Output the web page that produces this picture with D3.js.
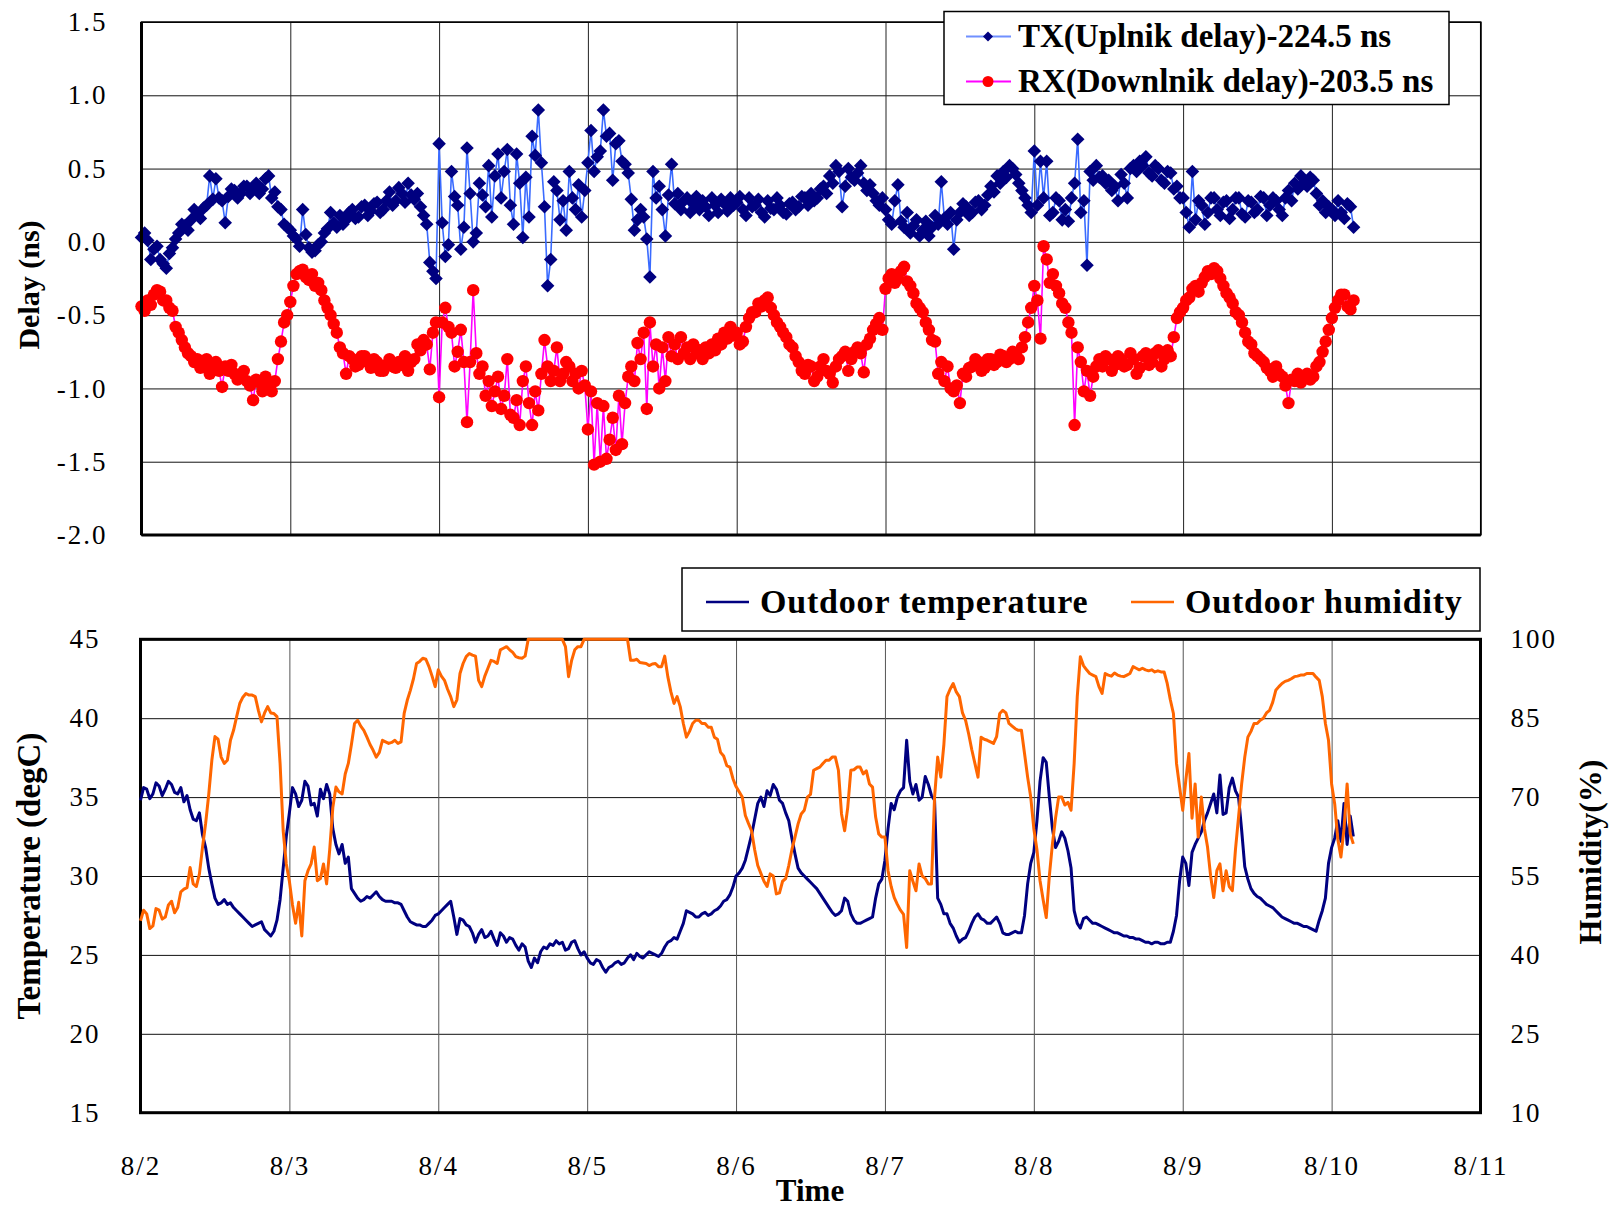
<!DOCTYPE html>
<html>
<head>
<meta charset="utf-8">
<script src="https://cdn.jsdelivr.net/npm/d3@7"></script>
<style>
  body { margin: 0; background: #fff; }
  text { font-family: "Liberation Serif", "Times New Roman", serif; fill: #000; }
  .tick text { font-size: 27px; letter-spacing: 2px; }
  .axis-title { font-weight: bold; }
  .legend-text { font-weight: bold; }
</style>
</head>
<body>
<div id="vis"></div>
<script>
// x axis: one label per day; samples every half hour from 8/2 00:00
var dayLabels = ['8/2', '8/3', '8/4', '8/5', '8/6', '8/7', '8/8', '8/9', '8/10', '8/11'];
var hoursPerPoint = 0.5;

var delayTicks = [1.5, 1.0, 0.5, 0.0, -0.5, -1.0, -1.5, -2.0];
var tempTicks = [45, 40, 35, 30, 25, 20, 15];
var humidityTicks = [100, 85, 70, 55, 40, 25, 10];

// TX (uplink delay - 224.5 ns), one row per day
var txDelay = [
  0.03, 0.06, 0.01, -0.12, -0.05, -0.03, -0.12, -0.15, -0.18, -0.08, -0.04, 0.02, 0.06, 0.12, 0.11, 0.08, 0.15, 0.22, 0.19, 0.16, 0.23, 0.25, 0.45, 0.29, 0.43, 0.30, 0.28, 0.13, 0.31, 0.36, 0.35, 0.30, 0.33, 0.38, 0.38, 0.33, 0.36, 0.40, 0.33, 0.36, 0.43, 0.45, 0.30, 0.34, 0.24, 0.22, 0.12, 0.10,
  0.08, 0.04, 0.02, -0.03, 0.22, 0.05, -0.04, -0.07, -0.06, -0.02, 0.00, 0.06, 0.09, 0.20, 0.13, 0.10, 0.18, 0.12, 0.15, 0.20, 0.22, 0.16, 0.17, 0.24, 0.25, 0.18, 0.21, 0.26, 0.27, 0.20, 0.22, 0.28, 0.34, 0.25, 0.28, 0.37, 0.33, 0.27, 0.40, 0.32, 0.29, 0.33, 0.24, 0.18, 0.12, -0.14, -0.20, -0.25,
  0.67, 0.13, -0.10, -0.02, 0.48, 0.31, 0.25, -0.05, 0.10, 0.64, 0.33, 0.00, 0.06, 0.40, 0.32, 0.24, 0.52, 0.17, 0.45, 0.60, 0.30, 0.48, 0.63, 0.25, 0.12, 0.60, 0.40, 0.03, 0.44, 0.17, 0.72, 0.59, 0.90, 0.54, 0.24, -0.30, -0.12, 0.41, 0.35, 0.15, 0.28, 0.08, 0.48, 0.30, 0.22, 0.39, 0.17, 0.35,
  0.54, 0.76, 0.48, 0.58, 0.62, 0.90, 0.72, 0.74, 0.42, 0.67, 0.69, 0.55, 0.53, 0.47, 0.29, 0.08, 0.15, 0.22, 0.17, 0.02, -0.24, 0.48, 0.30, 0.38, 0.22, 0.04, 0.32, 0.53, 0.26, 0.33, 0.22, 0.28, 0.30, 0.20, 0.26, 0.31, 0.22, 0.28, 0.24, 0.18, 0.30, 0.25, 0.20, 0.29, 0.26, 0.21, 0.30, 0.25,
  0.27, 0.31, 0.22, 0.18, 0.30, 0.24, 0.25, 0.29, 0.20, 0.17, 0.28, 0.23, 0.22, 0.30, 0.25, 0.20, 0.19, 0.26, 0.27, 0.22, 0.24, 0.31, 0.30, 0.25, 0.33, 0.28, 0.30, 0.36, 0.38, 0.33, 0.45, 0.40, 0.52, 0.48, 0.24, 0.38, 0.50, 0.44, 0.42, 0.47, 0.52, 0.40, 0.35, 0.39, 0.33, 0.28, 0.25, 0.30,
  0.22, 0.15, 0.12, 0.28, 0.39, 0.14, 0.10, 0.20, 0.06, 0.11, 0.15, 0.04, 0.08, 0.14, 0.04, 0.10, 0.18, 0.12, 0.41, 0.16, 0.12, 0.20, -0.05, 0.15, 0.20, 0.26, 0.24, 0.18, 0.20, 0.27, 0.28, 0.22, 0.25, 0.32, 0.38, 0.34, 0.45, 0.40, 0.48, 0.44, 0.52, 0.50, 0.46, 0.40, 0.35, 0.30, 0.25, 0.20,
  0.62, 0.25, 0.55, 0.30, 0.55, 0.18, 0.20, 0.30, 0.28, 0.15, 0.22, 0.14, 0.30, 0.40, 0.70, 0.20, 0.28, -0.16, 0.48, 0.42, 0.52, 0.44, 0.45, 0.40, 0.42, 0.35, 0.38, 0.28, 0.46, 0.40, 0.30, 0.50, 0.52, 0.48, 0.55, 0.52, 0.58, 0.47, 0.45, 0.52, 0.50, 0.42, 0.40, 0.48, 0.47, 0.36, 0.38, 0.30,
  0.30, 0.20, 0.10, 0.48, 0.15, 0.28, 0.25, 0.12, 0.20, 0.30, 0.30, 0.22, 0.18, 0.27, 0.28, 0.16, 0.22, 0.30, 0.30, 0.19, 0.17, 0.28, 0.27, 0.20, 0.22, 0.31, 0.30, 0.18, 0.25, 0.30, 0.28, 0.22, 0.18, 0.30, 0.35, 0.28, 0.40, 0.36, 0.45, 0.40, 0.38, 0.44, 0.42, 0.33, 0.25, 0.28, 0.20, 0.24,
  0.22, 0.18, 0.28, 0.20, 0.16, 0.26, 0.24, 0.10
];

// RX (downlink delay - 203.5 ns), one row per day
var rxDelay = [
  -0.44, -0.47, -0.40, -0.43, -0.36, -0.33, -0.34, -0.40, -0.40, -0.45, -0.47, -0.58, -0.62, -0.67, -0.72, -0.76, -0.78, -0.82, -0.80, -0.86, -0.84, -0.80, -0.90, -0.86, -0.82, -0.88, -0.99, -0.85, -0.88, -0.84, -0.90, -0.94, -0.92, -0.88, -0.95, -0.98, -1.08, -0.94, -0.96, -1.02, -0.92, -0.98, -1.02, -0.95, -0.80, -0.68, -0.55, -0.50,
  -0.41, -0.30, -0.22, -0.20, -0.19, -0.24, -0.26, -0.22, -0.30, -0.28, -0.33, -0.40, -0.45, -0.50, -0.56, -0.62, -0.72, -0.76, -0.90, -0.78, -0.80, -0.85, -0.84, -0.78, -0.78, -0.82, -0.86, -0.80, -0.82, -0.88, -0.88, -0.84, -0.80, -0.85, -0.86, -0.82, -0.84, -0.78, -0.88, -0.82, -0.80, -0.70, -0.74, -0.67, -0.70, -0.87, -0.62, -0.55,
  -1.06, -0.55, -0.45, -0.58, -0.62, -0.85, -0.75, -0.60, -0.82, -1.23, -0.82, -0.33, -0.76, -0.90, -0.85, -1.05, -0.95, -1.12, -1.02, -0.92, -1.14, -1.05, -0.80, -1.18, -1.20, -1.08, -1.25, -0.95, -0.85, -1.10, -1.25, -1.02, -1.15, -0.90, -0.67, -0.85, -0.95, -0.88, -0.72, -0.95, -0.90, -0.82, -0.85, -0.95, -0.90, -1.00, -0.88, -0.98,
  -1.28, -1.02, -1.52, -1.10, -1.50, -1.12, -1.48, -1.35, -1.20, -1.42, -1.05, -1.38, -1.10, -0.92, -0.85, -0.95, -0.69, -0.80, -0.62, -1.14, -0.55, -0.85, -0.70, -1.00, -0.72, -0.95, -0.65, -0.78, -0.70, -0.80, -0.65, -0.76, -0.72, -0.80, -0.70, -0.76, -0.74, -0.80, -0.72, -0.76, -0.70, -0.74, -0.66, -0.70, -0.62, -0.66, -0.58, -0.64,
  -0.62, -0.70, -0.68, -0.58, -0.52, -0.48, -0.48, -0.42, -0.44, -0.40, -0.38, -0.45, -0.50, -0.55, -0.58, -0.62, -0.65, -0.70, -0.72, -0.78, -0.82, -0.88, -0.90, -0.84, -0.85, -0.95, -0.92, -0.85, -0.80, -0.88, -0.90, -0.96, -0.85, -0.80, -0.78, -0.75, -0.88, -0.80, -0.75, -0.72, -0.76, -0.89, -0.70, -0.66, -0.60, -0.56, -0.52, -0.60,
  -0.32, -0.25, -0.22, -0.28, -0.25, -0.20, -0.17, -0.27, -0.30, -0.35, -0.42, -0.45, -0.48, -0.55, -0.60, -0.67, -0.68, -0.90, -0.82, -0.95, -0.85, -1.00, -1.02, -0.98, -1.10, -0.90, -0.92, -0.86, -0.85, -0.80, -0.82, -0.88, -0.86, -0.80, -0.80, -0.84, -0.82, -0.77, -0.78, -0.82, -0.80, -0.75, -0.76, -0.80, -0.72, -0.65, -0.55, -0.45,
  -0.30, -0.40, -0.66, -0.03, -0.12, -0.28, -0.22, -0.30, -0.35, -0.42, -0.45, -0.55, -0.62, -1.25, -0.72, -0.82, -1.02, -0.88, -1.05, -0.92, -0.85, -0.80, -0.85, -0.78, -0.80, -0.88, -0.84, -0.78, -0.80, -0.85, -0.84, -0.76, -0.80, -0.90, -0.86, -0.78, -0.76, -0.84, -0.82, -0.76, -0.74, -0.85, -0.80, -0.74, -0.78, -0.65, -0.52, -0.48,
  -0.45, -0.40, -0.38, -0.32, -0.30, -0.34, -0.28, -0.24, -0.20, -0.22, -0.18, -0.20, -0.25, -0.30, -0.35, -0.38, -0.42, -0.48, -0.50, -0.55, -0.62, -0.68, -0.70, -0.76, -0.78, -0.80, -0.82, -0.86, -0.88, -0.92, -0.85, -0.90, -0.92, -0.98, -1.10, -0.94, -0.95, -0.90, -0.96, -0.92, -0.90, -0.94, -0.92, -0.85, -0.82, -0.75, -0.68, -0.60,
  -0.52, -0.45, -0.40, -0.36, -0.36, -0.44, -0.46, -0.40
];

// outdoor temperature (degC), one row per day
var temperature = [
  34.8, 35.6, 35.5, 34.9, 35.2, 35.9, 35.7, 35.1, 35.5, 36.0, 35.8, 35.3, 35.2, 35.6, 34.7, 35.1, 34.2, 33.6, 33.5, 34.0, 32.6, 31.8, 30.5, 29.5, 28.6, 28.2, 28.3, 28.5, 28.2, 28.3, 28.0, 27.8, 27.6, 27.4, 27.2, 27.0, 26.8, 26.9, 27.0, 27.1, 26.6, 26.4, 26.2, 26.5, 27.2, 28.5, 30.5, 32.5,
  34.0, 35.6, 35.2, 34.4, 34.8, 36.0, 35.7, 34.5, 34.6, 33.8, 35.5, 34.9, 35.8, 35.2, 33.0, 32.0, 31.4, 32.0, 30.8, 31.2, 29.2, 28.9, 28.6, 28.4, 28.5, 28.7, 28.6, 28.8, 29.0, 28.7, 28.5, 28.4, 28.4, 28.4, 28.3, 28.3, 28.2, 27.8, 27.4, 27.1, 27.0, 26.9, 26.9, 26.8, 26.8, 27.0, 27.2, 27.5,
  27.6, 27.8, 28.0, 28.2, 28.4, 27.4, 26.3, 27.3, 27.2, 26.9, 26.8, 26.4, 25.8, 26.3, 26.6, 26.1, 26.2, 26.5, 26.0, 25.6, 26.4, 26.2, 25.8, 26.1, 26.0, 25.6, 25.3, 25.7, 25.5, 24.6, 24.2, 24.8, 24.5, 25.2, 25.5, 25.4, 25.7, 25.6, 25.9, 25.7, 25.8, 25.3, 25.4, 25.8, 25.9, 25.4, 25.0, 25.2,
  24.8, 24.5, 24.4, 24.7, 24.6, 24.2, 23.9, 24.2, 24.3, 24.5, 24.6, 24.4, 24.5, 24.8, 25.0, 24.7, 25.1, 24.9, 24.8, 25.0, 25.2, 25.1, 25.0, 24.9, 25.1, 25.5, 25.8, 25.9, 26.1, 26.0, 26.5, 27.0, 27.8, 27.7, 27.6, 27.4, 27.4, 27.6, 27.7, 27.5, 27.6, 27.8, 27.9, 28.1, 28.4, 28.5, 28.8, 29.3,
  30.0, 30.2, 30.5, 31.0, 31.8, 32.6, 33.6, 34.6, 35.0, 34.4, 35.4, 35.1, 35.8, 35.5, 34.8, 34.6, 34.0, 33.5, 32.4, 31.4, 30.5, 30.2, 30.0, 29.8, 29.6, 29.4, 29.2, 28.9, 28.6, 28.3, 28.0, 27.7, 27.5, 27.6, 27.8, 28.6, 28.4, 27.6, 27.2, 27.0, 27.0, 27.1, 27.2, 27.3, 27.4, 28.6, 29.5, 29.8,
  31.0, 33.0, 34.6, 34.2, 35.0, 35.4, 35.6, 38.6, 36.0, 35.2, 35.8, 34.8, 35.0, 36.3, 35.8, 35.1, 34.8, 28.6, 28.2, 27.6, 27.6, 27.0, 26.7, 26.2, 25.8, 26.0, 26.1, 26.5, 27.0, 27.4, 27.6, 27.3, 27.2, 27.0, 27.0, 27.2, 27.4, 27.0, 26.4, 26.3, 26.3, 26.4, 26.5, 26.4, 26.4, 27.5, 29.5, 30.8,
  31.5, 33.5, 36.0, 37.5, 37.2, 35.0, 33.0, 31.8, 32.2, 32.8, 32.4, 31.6, 30.5, 27.8, 27.0, 26.7, 27.3, 27.4, 27.2, 27.0, 27.0, 26.9, 26.8, 26.7, 26.6, 26.5, 26.4, 26.4, 26.3, 26.2, 26.2, 26.1, 26.1, 26.0, 26.0, 25.9, 25.8, 25.8, 25.7, 25.8, 25.8, 25.7, 25.7, 25.8, 25.8, 26.5, 27.5, 29.7,
  31.2, 30.8, 29.4, 31.5, 32.0, 32.4, 32.8, 33.5, 34.0, 34.6, 35.2, 34.0, 36.4, 33.9, 34.0, 35.6, 36.2, 35.4, 35.0, 32.9, 30.6, 29.8, 29.2, 28.9, 28.7, 28.6, 28.4, 28.2, 28.1, 28.0, 27.8, 27.6, 27.4, 27.3, 27.2, 27.1, 27.0, 27.0, 26.9, 26.8, 26.8, 26.7, 26.6, 26.5, 27.2, 27.8, 28.6, 30.8,
  31.8, 32.4, 33.5, 32.2, 34.6, 32.0, 33.8, 32.5
];

// outdoor humidity (%), one row per day
var humidity = [
  46.5, 48.5, 47.8, 45.0, 45.5, 48.8, 48.5, 46.8, 47.2, 49.5, 50.2, 48.0, 49.0, 52.0, 52.5, 52.8, 56.6, 53.5, 53.0, 55.4, 60.5, 65.0, 70.5, 77.0, 81.5, 81.0, 77.6, 76.4, 77.0, 80.8, 82.7, 85.3, 87.8, 89.0, 89.7, 89.4, 89.4, 89.1, 86.5, 84.3, 86.0, 87.2, 86.0, 85.9, 85.3, 76.4, 63.6, 57.3,
  54.0, 49.5, 46.0, 50.0, 43.6, 54.1, 56.0, 57.3, 60.5, 54.1, 54.5, 57.3, 53.5, 60.0, 68.0, 71.9, 71.0, 70.6, 74.4, 76.4, 80.0, 84.0, 84.6, 83.5, 82.7, 81.4, 80.0, 78.9, 77.6, 78.5, 80.8, 80.5, 80.2, 80.4, 80.8, 80.2, 80.5, 85.9, 88.4, 90.3, 92.5, 95.4, 95.8, 96.4, 96.2, 94.8, 93.0, 91.0,
  94.2, 93.0, 92.2, 90.5, 89.1, 87.2, 88.5, 93.5, 95.4, 96.7, 97.3, 97.0, 96.8, 92.2, 91.0, 93.0, 94.5, 96.0, 95.8, 95.4, 98.0, 98.3, 98.6, 98.0, 97.5, 96.7, 96.5, 96.4, 96.8, 100, 100, 100, 100, 100, 100, 100, 100, 100, 100, 100, 100, 98.6, 92.9, 96.0, 98.0, 98.6, 98.6, 100,
  100, 100, 100, 100, 100, 100, 100, 100, 100, 100, 100, 100, 100, 100, 96.0, 96.0, 96.2, 95.6, 95.5, 95.4, 95.0, 95.3, 95.4, 94.8, 94.8, 96.8, 92.9, 90.0, 87.8, 89.1, 87.2, 84.0, 81.4, 82.5, 84.0, 84.6, 84.6, 84.0, 84.0, 83.3, 83.3, 81.4, 81.0, 78.5, 77.8, 76.0, 75.7, 73.5,
  72.0, 71.0, 70.0, 66.5, 65.0, 63.6, 60.0, 57.0, 55.5, 54.0, 53.0, 55.4, 55.0, 51.6, 51.8, 54.0, 54.5, 57.0, 60.0, 62.4, 64.9, 66.8, 67.5, 70.0, 70.5, 75.1, 75.4, 75.7, 76.4, 77.0, 77.0, 77.6, 77.6, 75.1, 66.8, 63.6, 68.0, 75.1, 75.2, 75.7, 75.7, 74.4, 75.0, 72.5, 71.9, 66.2, 63.0, 62.4,
  62.4, 56.0, 53.0, 50.9, 49.6, 48.5, 47.7, 41.4, 56.0, 54.0, 52.2, 57.3, 55.0, 54.5, 53.5, 53.5, 70.0, 77.6, 73.8, 80.0, 89.1, 90.5, 91.6, 90.0, 89.1, 86.0, 84.6, 82.0, 79.0, 76.4, 73.8, 81.4, 81.0, 80.8, 80.5, 80.2, 81.5, 85.9, 86.5, 86.0, 84.0, 83.5, 83.0, 82.7, 82.7, 78.3, 73.8, 70.0,
  64.0, 60.0, 54.1, 50.5, 47.1, 55.0, 61.1, 66.0, 70.0, 70.0, 68.5, 69.0, 67.5, 76.4, 89.1, 96.7, 95.0, 94.2, 93.5, 93.2, 92.9, 91.0, 89.7, 93.5, 93.2, 93.0, 93.6, 93.2, 93.0, 92.9, 93.2, 93.5, 94.8, 94.5, 94.2, 94.5, 94.2, 94.0, 94.2, 93.8, 94.0, 93.8, 93.8, 91.6, 88.5, 85.9, 76.4, 71.9,
  67.5, 73.2, 78.3, 66.0, 72.5, 62.4, 70.0, 64.0, 60.5, 55.0, 50.9, 56.0, 57.3, 52.2, 56.0, 53.0, 52.2, 60.0, 66.2, 72.5, 77.6, 81.4, 82.5, 84.0, 84.0, 84.6, 85.0, 86.0, 86.5, 88.0, 90.3, 91.0, 91.6, 92.0, 92.2, 92.5, 92.9, 93.0, 93.2, 93.2, 93.5, 93.5, 93.5, 92.8, 92.2, 89.1, 84.0, 80.8,
  72.5, 68.7, 62.0, 58.6, 64.0, 72.5, 63.0, 61.1
];

var width = 1614;
var height = 1209;

var topBox = { left: 141.5, right: 1480.7, top: 22, bottom: 535 };
var botBox = { left: 140.5, right: 1480.5, top: 639.3, bottom: 1112.7 };

var svg = d3.select('#vis')
  .append('svg')
  .attr('width', width)
  .attr('height', height)
  .style('background', '#fff');

function dayOf(i) {
  return i * hoursPerPoint / 24;
}

var xTop = d3.scaleLinear().domain([0, dayLabels.length - 1]).range([topBox.left, topBox.right]);
var xBot = d3.scaleLinear().domain([0, dayLabels.length - 1]).range([botBox.left, botBox.right]);
var yDelay = d3.scaleLinear().domain([-2, 1.5]).range([topBox.bottom, topBox.top]);
var yTemp = d3.scaleLinear().domain([15, 45]).range([botBox.bottom, botBox.top]);
var yHum = d3.scaleLinear().domain([10, 100]).range([botBox.bottom, botBox.top]);

function styleGrid(g, color) {
  g.select('.domain').remove();
  g.selectAll('.tick line').attr('stroke', color).attr('stroke-width', 1);
}

/* ---------- top chart: delays ---------- */

var delayChart = svg.append('g');

delayChart.append('g')
  .attr('transform', 'translate(' + topBox.left + ',0)')
  .call(d3.axisLeft(yDelay)
    .tickValues(delayTicks)
    .tickSize(-(topBox.right - topBox.left))
    .tickPadding(34)
    .tickFormat(function (d) { return d.toFixed(1); }))
  .call(styleGrid, '#111');

delayChart.append('g')
  .attr('transform', 'translate(0,' + topBox.bottom + ')')
  .call(d3.axisBottom(xTop)
    .tickValues(d3.range(dayLabels.length))
    .tickSize(-(topBox.bottom - topBox.top))
    .tickFormat(''))
  .call(styleGrid, '#222');

delayChart.append('rect')
  .attr('x', topBox.left).attr('y', topBox.top)
  .attr('width', topBox.right - topBox.left)
  .attr('height', topBox.bottom - topBox.top)
  .attr('fill', 'none').attr('stroke', '#000').attr('stroke-width', 1.5);

function drawDelay(values, lineColor, markerColor, isDiamond) {
  var line = d3.line()
    .x(function (d, i) { return xTop(dayOf(i)); })
    .y(function (d) { return yDelay(d); });

  delayChart.append('path')
    .datum(values)
    .attr('d', line)
    .attr('fill', 'none')
    .attr('stroke', lineColor)
    .attr('stroke-width', 1.6);

  var marks = delayChart.append('g');
  if (isDiamond) {
    marks.selectAll('path')
      .data(values)
      .enter().append('path')
      .attr('d', d3.symbol(d3.symbolSquare, 92))
      .attr('transform', function (d, i) {
        return 'translate(' + xTop(dayOf(i)) + ',' + yDelay(d) + ') rotate(45)';
      })
      .attr('fill', markerColor);
  } else {
    marks.selectAll('circle')
      .data(values)
      .enter().append('circle')
      .attr('cx', function (d, i) { return xTop(dayOf(i)); })
      .attr('cy', function (d) { return yDelay(d); })
      .attr('r', 6.2)
      .attr('fill', markerColor);
  }
}

drawDelay(txDelay, '#3a6bff', '#000080', true);
drawDelay(rxDelay, '#ff00ff', '#ff0000', false);

// thick left and bottom axis lines
delayChart.append('line')
  .attr('x1', topBox.left).attr('x2', topBox.left)
  .attr('y1', topBox.top).attr('y2', topBox.bottom)
  .attr('stroke', '#000').attr('stroke-width', 3);
delayChart.append('line')
  .attr('x1', topBox.left).attr('x2', topBox.right)
  .attr('y1', topBox.bottom).attr('y2', topBox.bottom)
  .attr('stroke', '#000').attr('stroke-width', 3);

delayChart.append('text')
  .attr('class', 'axis-title')
  .attr('transform', 'translate(28,285) rotate(-90)')
  .attr('text-anchor', 'middle')
  .attr('dy', '0.35em')
  .style('font-size', '30px')
  .text('Delay (ns)');

// legend of the delay chart
var leg1 = delayChart.append('g');
leg1.append('rect')
  .attr('x', 944).attr('y', 11.5).attr('width', 505).attr('height', 93)
  .attr('fill', '#fff').attr('stroke', '#000').attr('stroke-width', 1.5);

var leg1Items = [
  { label: 'TX(Uplnik delay)-224.5 ns', line: '#7090ff', mark: '#000080', diamond: true },
  { label: 'RX(Downlnik delay)-203.5 ns', line: '#ff00ff', mark: '#ff0000', diamond: false }
];

leg1Items.forEach(function (item, k) {
  var cy = 36.5 + k * 45;
  leg1.append('line')
    .attr('x1', 966).attr('x2', 1011).attr('y1', cy).attr('y2', cy)
    .attr('stroke', item.line).attr('stroke-width', 2);
  if (item.diamond) {
    leg1.append('path')
      .attr('d', d3.symbol(d3.symbolSquare, 50))
      .attr('transform', 'translate(988,' + cy + ') rotate(45)')
      .attr('fill', item.mark);
  } else {
    leg1.append('circle')
      .attr('cx', 988).attr('cy', cy).attr('r', 5.5)
      .attr('fill', item.mark);
  }
  leg1.append('text')
    .attr('class', 'legend-text')
    .attr('x', 1018).attr('y', cy + 10)
    .style('font-size', '33px')
    .text(item.label);
});

/* ---------- bottom chart: temperature and humidity ---------- */

var weatherChart = svg.append('g');

weatherChart.append('g')
  .attr('transform', 'translate(' + botBox.left + ',0)')
  .call(d3.axisLeft(yTemp)
    .tickValues(tempTicks)
    .tickSize(-(botBox.right - botBox.left))
    .tickPadding(40)
    .tickFormat(d3.format('d')))
  .call(styleGrid, '#111');

weatherChart.append('g')
  .attr('transform', 'translate(' + botBox.right + ',0)')
  .call(d3.axisRight(yHum)
    .tickValues(humidityTicks)
    .tickSize(0)
    .tickPadding(30)
    .tickFormat(d3.format('d')))
  .call(styleGrid, '#111');

weatherChart.append('g')
  .attr('transform', 'translate(0,' + botBox.bottom + ')')
  .call(d3.axisBottom(xBot)
    .tickValues(d3.range(dayLabels.length))
    .tickSize(-(botBox.bottom - botBox.top))
    .tickPadding(43)
    .tickFormat(function (i) { return dayLabels[i]; }))
  .call(styleGrid, '#555');

weatherChart.append('rect')
  .attr('x', botBox.left).attr('y', botBox.top)
  .attr('width', botBox.right - botBox.left)
  .attr('height', botBox.bottom - botBox.top)
  .attr('fill', 'none').attr('stroke', '#000').attr('stroke-width', 3);

var tempLine = d3.line()
  .x(function (d, i) { return xBot(dayOf(i)); })
  .y(function (d) { return yTemp(d); });

var humLine = d3.line()
  .x(function (d, i) { return xBot(dayOf(i)); })
  .y(function (d) { return yHum(d); });

weatherChart.append('path')
  .datum(temperature)
  .attr('d', tempLine)
  .attr('fill', 'none')
  .attr('stroke', '#000080')
  .attr('stroke-width', 3)
  .attr('stroke-linejoin', 'round');

weatherChart.append('path')
  .datum(humidity)
  .attr('d', humLine)
  .attr('fill', 'none')
  .attr('stroke', '#ff6600')
  .attr('stroke-width', 3)
  .attr('stroke-linejoin', 'round');

weatherChart.append('text')
  .attr('class', 'axis-title')
  .attr('transform', 'translate(28,' + (botBox.top + botBox.bottom) / 2 + ') rotate(-90)')
  .attr('text-anchor', 'middle')
  .attr('dy', '0.35em')
  .style('font-size', '33px')
  .text('Temperature (degC)');

weatherChart.append('text')
  .attr('class', 'axis-title')
  .attr('transform', 'translate(1590,852) rotate(-90)')
  .attr('text-anchor', 'middle')
  .attr('dy', '0.35em')
  .style('font-size', '32px')
  .text('Humidity(%)');

weatherChart.append('text')
  .attr('class', 'axis-title')
  .attr('x', 810).attr('y', 1201)
  .attr('text-anchor', 'middle')
  .style('font-size', '31px')
  .text('Time');

// legend of the weather chart
var leg2 = weatherChart.append('g');
leg2.append('rect')
  .attr('x', 682).attr('y', 568).attr('width', 798).attr('height', 63)
  .attr('fill', '#fff').attr('stroke', '#000').attr('stroke-width', 1.5);

var leg2Items = [
  { label: 'Outdoor temperature', color: '#000080', x: 706 },
  { label: 'Outdoor humidity', color: '#ff6600', x: 1131 }
];

leg2Items.forEach(function (item) {
  leg2.append('line')
    .attr('x1', item.x).attr('x2', item.x + 43).attr('y1', 602).attr('y2', 602)
    .attr('stroke', item.color).attr('stroke-width', 2.6);
  leg2.append('text')
    .attr('class', 'legend-text')
    .attr('x', item.x + 54).attr('y', 613)
    .style('font-size', '34px')
    .style('letter-spacing', '0.8px')
    .text(item.label);
});
</script>
</body>
</html>
